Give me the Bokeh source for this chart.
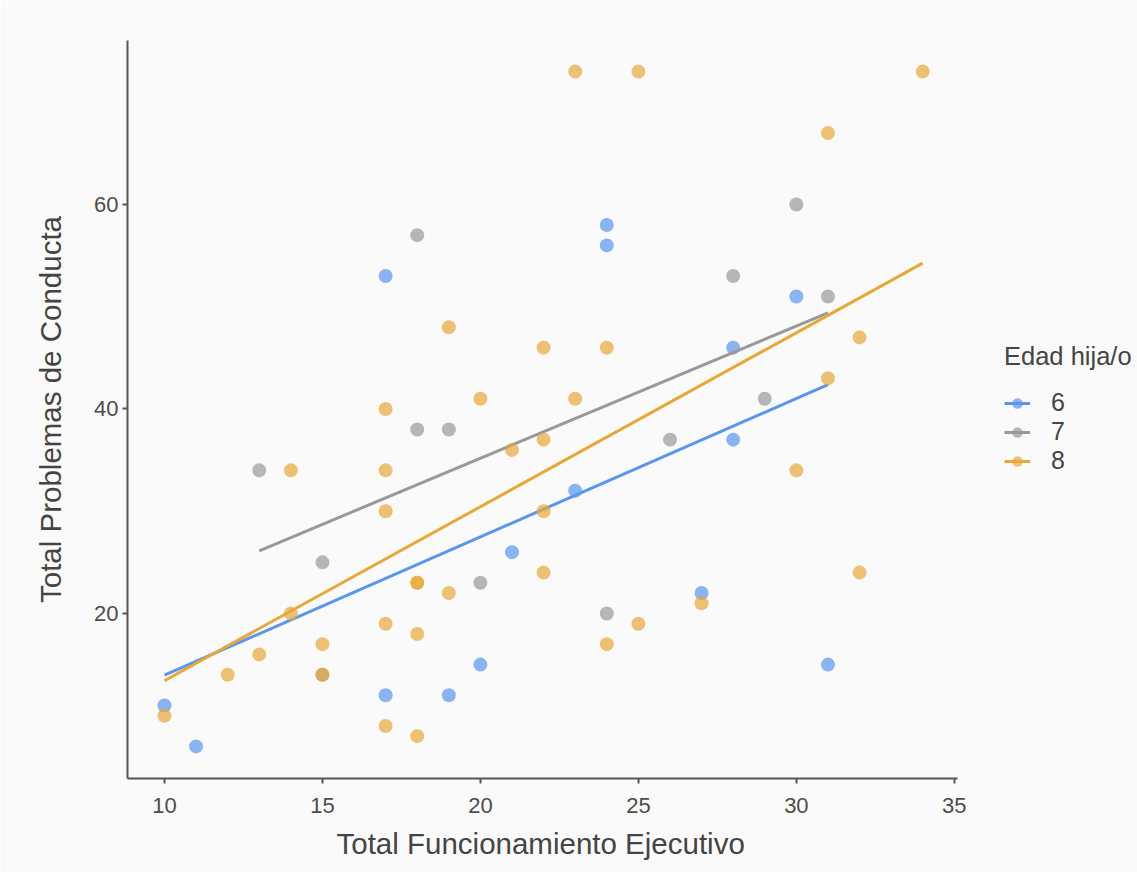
import numpy as np
from bokeh.plotting import figure
from bokeh.models import Range1d, FixedTicker, Legend, LegendItem, Title
from bokeh.embed import file_html
from bokeh.resources import INLINE

# Data: Total Funcionamiento Ejecutivo (x) vs Total Problemas de Conducta (y), by Edad hija/o
x6 = [24, 24, 17, 30, 28, 28, 23, 21, 27, 20, 31, 17, 19, 10, 11]
y6 = [58, 56, 53, 51, 46, 37, 32, 26, 22, 15, 15, 12, 12, 11, 7]

x7 = [18, 30, 28, 31, 29, 18, 19, 26, 13, 15, 20, 24, 15]
y7 = [57, 60, 53, 51, 41, 38, 38, 37, 34, 25, 23, 20, 14]

x8 = [23, 25, 34, 31, 19, 22, 24, 32, 31, 17, 20, 23, 21, 22, 14, 17, 30, 17,
      22, 22, 32, 18, 18, 19, 27, 14, 17, 25, 18, 24, 15, 13, 12, 15, 10, 17, 18]
y8 = [73, 73, 73, 67, 48, 46, 46, 47, 43, 40, 41, 41, 36, 37, 34, 34, 34, 30,
      30, 24, 24, 23, 23, 22, 21, 20, 19, 19, 18, 17, 17, 16, 14, 14, 10, 9, 8]

groups = ["6", "7", "8"]
colors = ["#5A96EC", "#999999", "#E6A83A"]
x_ticks = [10, 15, 20, 25, 30, 35]
y_ticks = [20, 40, 60]

FONT = "Liberation Sans"
BG = "#fafafa"

X_LO, X_HI = 8.83, 35.1  # visible axis extent
# frame extends to the right edge so the legend sits inside it
x_end = X_LO + (1137 - 127) * (X_HI - X_LO) / 830.0

p = figure(width=1137, height=872, output_backend="svg", toolbar_location=None,
           x_range=Range1d(X_LO, x_end), y_range=Range1d(3.86, 76.04),
           min_border_left=127, min_border_right=0, min_border_top=40,
           min_border_bottom=94)
p.background_fill_color = BG
p.border_fill_color = BG
p.outline_line_color = None
p.xgrid.visible = False
p.ygrid.visible = False

for ax in (p.xaxis[0], p.yaxis[0]):
    ax.axis_line_color = "#555555"
    ax.axis_line_width = 2
    ax.major_tick_line_color = "#555555"
    ax.major_tick_line_width = 2
    ax.major_tick_out = 5
    ax.major_tick_in = 0
    ax.minor_tick_line_color = None
    ax.major_label_text_font = FONT
    ax.major_label_text_font_size = "22px"
    ax.major_label_text_color = "#4d4d4d"
    ax.axis_label_text_font = FONT
    ax.axis_label_text_font_size = "29.5px"
    ax.axis_label_text_font_style = "normal"
    ax.axis_label_text_color = "#444444"

p.xaxis[0].bounds = (X_LO, X_HI)
p.xaxis[0].ticker = FixedTicker(ticks=x_ticks)
p.yaxis[0].ticker = FixedTicker(ticks=y_ticks)
p.yaxis[0].axis_label = "Total Problemas de Conducta"
p.xaxis[0].major_label_standoff = 14
p.yaxis[0].major_label_standoff = 4
p.yaxis[0].axis_label_standoff = 24

# x-axis title centred under the visible axis (not the extended frame)
xtitle = Title(text="Total Funcionamiento Ejecutivo", align="left", offset=209,
               vertical_align="top", standoff=22,
               text_font=FONT, text_font_size="29.5px", text_font_style="normal",
               text_color="#444444")
p.add_layout(xtitle, "below")

items = []
for g, xs, ys, c in zip(groups, [x6, x7, x8], [y6, y7, y8], colors):
    xs_a = np.array(xs, dtype=float)
    ys_a = np.array(ys, dtype=float)
    slope, intercept = np.polyfit(xs_a, ys_a, 1)
    lx = np.array([xs_a.min(), xs_a.max()])
    ly = intercept + slope * lx
    sr = p.scatter(xs, ys, size=14, fill_color=c, fill_alpha=0.7, line_color=None)
    lr = p.line(lx, ly, line_color=c, line_width=3)
    items.append(LegendItem(label=g, renderers=[lr, sr]))

legend = Legend(items=items, location=(877, 303),
                title="Edad hija/o", title_text_font=FONT, title_text_font_size="25.5px",
                title_text_font_style="normal",
                title_text_color="#444444", title_standoff=17,
                label_text_font=FONT, label_text_font_size="25px",
                label_text_color="#444444", label_standoff=21,
                glyph_width=26, glyph_height=26, label_height=26, spacing=0,
                padding=10, margin=0,
                background_fill_alpha=0, border_line_color=None)
p.add_layout(legend, "center")

open("out.html", "w").write(file_html(p, INLINE))
